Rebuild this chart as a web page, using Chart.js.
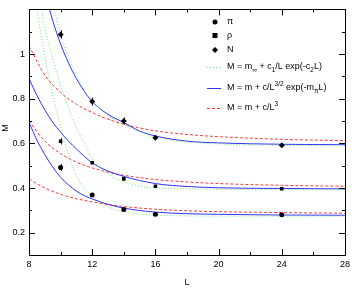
<!DOCTYPE html>
<html>
<head>
<meta charset="utf-8">
<script src="https://cdn.jsdelivr.net/npm/chart.js@4.4.1/dist/chart.umd.min.js"></script>
<style>
  html, body { margin: 0; padding: 0; background: #fff; }
</style>
</head>
<body>
<canvas id="massChart" width="354" height="289"></canvas>

<script>
// lattice data: L and the three masses with error bars
var L_data = [10, 12, 14, 16, 24];
var pi_M   = [0.492, 0.369, 0.304, 0.283, 0.280];
var pi_err = [0.015, 0.004, 0.003, 0.003, 0.003];
var rho_M   = [0.609, 0.513, 0.441, 0.408, 0.397];
var rho_err = [0.014, 0.004, 0.003, 0.003, 0.003];
var N_M   = [1.088, 0.787, 0.700, 0.625, 0.592];
var N_err = [0.018, 0.018, 0.016, 0.004, 0.004];

// fit curves
// green dotted: M = m_inf + c1/L exp(-c2 L)
var gN_L = [9.6, 10, 10.5, 11, 11.5, 12, 13, 14, 15, 16, 18, 20, 24, 28];
var gN_M = [1.2, 1.09, 0.985, 0.905, 0.84, 0.79, 0.725, 0.685, 0.652, 0.625, 0.606, 0.597, 0.591, 0.589];
var gR_L = [8.8, 9, 9.5, 10, 10.5, 11, 11.5, 12, 13, 14, 15, 16, 18, 20, 24, 28];
var gR_M = [1.2, 1.12, 0.98, 0.86, 0.76, 0.67, 0.6, 0.53, 0.463, 0.428, 0.408, 0.4, 0.396, 0.394, 0.393, 0.393];
var gP_L = [8.5, 9, 9.5, 10, 10.5, 11, 11.5, 12, 13, 14, 15, 16, 18, 20, 24, 28];
var gP_M = [1.2, 0.99, 0.82, 0.68, 0.55, 0.455, 0.4, 0.366, 0.315, 0.294, 0.283, 0.278, 0.275, 0.274, 0.274, 0.274];
// blue solid: M = m + c/L^(3/2) exp(-m_pi L)
var bN_L = [9.3, 9.5, 10, 10.5, 11, 11.5, 12, 13, 14, 15, 16, 18, 20, 24, 28];
var bN_M = [1.2, 1.15, 1.045, 0.96, 0.89, 0.833, 0.787, 0.73, 0.693, 0.655, 0.633, 0.61, 0.602, 0.596, 0.594];
var bR_L = [8, 8.5, 9, 9.5, 10, 10.5, 11, 12, 13, 14, 16, 18, 20, 24, 28];
var bR_M = [0.89, 0.815, 0.75, 0.695, 0.65, 0.61, 0.575, 0.513, 0.476, 0.452, 0.42, 0.407, 0.401, 0.398, 0.396];
var bP_L = [8, 8.5, 9, 9.5, 10, 10.5, 11, 11.5, 12, 13, 14, 16, 18, 20, 24, 28];
var bP_M = [0.694, 0.615, 0.55, 0.494, 0.448, 0.414, 0.386, 0.366, 0.351, 0.327, 0.31, 0.292, 0.285, 0.282, 0.279, 0.278];
// red dashed: M = m + c/L^3
var rN_L = [8, 9, 10, 11, 12, 13, 14, 16, 18, 20, 24, 28];
var rN_M = [1.036, 0.906, 0.828, 0.775, 0.738, 0.708, 0.686, 0.656, 0.64, 0.63, 0.618, 0.612];
var rR_L = [8, 9, 10, 11, 12, 13, 14, 16, 18, 20, 24, 28];
var rR_M = [0.70, 0.61, 0.554, 0.516, 0.49, 0.471, 0.457, 0.438, 0.427, 0.42, 0.412, 0.408];
var rP_L = [8, 9, 10, 11, 12, 13, 14, 16, 18, 20, 24, 28];
var rP_M = [0.44, 0.40, 0.372, 0.352, 0.338, 0.326, 0.317, 0.305, 0.298, 0.294, 0.29, 0.287];

var xTicks = [8, 12, 16, 20, 24, 28];
var yTicks = [0.2, 0.4, 0.6, 0.8, 1];

var GREEN = 'rgb(120,225,120)';
var BLUE = 'rgb(50,50,245)';
var RED = 'rgb(245,60,60)';
var FONT = "'Liberation Sans', Arial, sans-serif";

function pts(xs, ys) {
    return xs.map(function (x, i) { return {x: x, y: ys[i]}; });
}

function curve(xs, ys, color, dash) {
    return {
        type: 'line',
        data: pts(xs, ys),
        borderColor: color,
        borderWidth: 1,
        borderDash: dash,
        pointRadius: 0,
        fill: false,
        cubicInterpolationMode: 'monotone'
    };
}

function markers(ys, errs, style, r) {
    return {
        type: 'scatter',
        data: pts(L_data, ys),
        errors: errs,
        pointStyle: style,
        pointRadius: r,
        backgroundColor: '#000',
        borderColor: '#000',
        borderWidth: 0
    };
}

// error bars, inward ticks and the frame
var framePlugin = {
    id: 'frame',
    afterDatasetsDraw: function (chart) {
        var ctx = chart.ctx, xs = chart.scales.x, ys = chart.scales.y;
        ctx.save();
        ctx.strokeStyle = '#000';
        ctx.lineWidth = 1;
        chart.data.datasets.forEach(function (ds) {
            if (!ds.errors) return;
            ds.data.forEach(function (p, i) {
                var px = Math.round(xs.getPixelForValue(p.x)) + 0.5;
                ctx.beginPath();
                ctx.moveTo(px, ys.getPixelForValue(p.y - ds.errors[i]));
                ctx.lineTo(px, ys.getPixelForValue(p.y + ds.errors[i]));
                ctx.stroke();
            });
        });
        ctx.restore();
    },
    afterDraw: function (chart) {
        var ctx = chart.ctx, a = chart.chartArea;
        var xs = chart.scales.x, ys = chart.scales.y;
        ctx.save();
        ctx.strokeStyle = '#000';
        ctx.lineWidth = 1;
        ctx.strokeRect(Math.round(a.left) + 0.5, Math.round(a.top) + 0.5,
                       Math.round(a.right - a.left), Math.round(a.bottom - a.top));
        ctx.beginPath();
        xs.ticks.forEach(function (t) {
            var len = (t.value % 4 === 0) ? 6 : 3;
            var px = Math.round(xs.getPixelForValue(t.value)) + 0.5;
            ctx.moveTo(px, a.bottom); ctx.lineTo(px, a.bottom - len);
            ctx.moveTo(px, a.top); ctx.lineTo(px, a.top + len);
        });
        ys.ticks.forEach(function (t) {
            var k = Math.round(t.value * 10);
            var len = (k % 2 === 0) ? 6 : 3;
            var py = Math.round(ys.getPixelForValue(t.value)) + 0.5;
            ctx.moveTo(a.left, py); ctx.lineTo(a.left + len, py);
            ctx.moveTo(a.right, py); ctx.lineTo(a.right - len, py);
        });
        ctx.stroke();

        // axis titles
        ctx.fillStyle = '#000';
        ctx.font = '9px ' + FONT;
        ctx.textAlign = 'center';
        ctx.textBaseline = 'middle';
        ctx.fillText('L', (a.left + a.right) / 2, 283);
        ctx.save();
        ctx.translate(6, 128);
        ctx.rotate(-Math.PI / 2);
        ctx.fillText('M', 0, 0);
        ctx.restore();
        ctx.restore();
    }
};

// legend with sub- and superscripts
function richText(ctx, x, y, parts) {
    parts.forEach(function (p) {
        var size = p[1] ? 6.5 : 9;
        var dy = p[1] === 'sub' ? 3 : (p[1] === 'sup' ? -4 : 0);
        ctx.font = size + 'px ' + FONT;
        ctx.fillText(p[0], x, y + dy);
        x += ctx.measureText(p[0]).width;
    });
}

var legendPlugin = {
    id: 'customLegend',
    afterDraw: function (chart) {
        var ctx = chart.ctx;
        ctx.save();
        ctx.fillStyle = '#000';
        ctx.textAlign = 'left';
        ctx.textBaseline = 'middle';
        var mx = 215, tx = 227;
        // markers
        ctx.beginPath(); ctx.arc(mx, 22, 2.5, 0, 2 * Math.PI); ctx.fill();
        ctx.fillRect(mx - 2.5, 33, 5, 5);
        ctx.beginPath();
        ctx.moveTo(mx, 47); ctx.lineTo(mx + 3, 50); ctx.lineTo(mx, 53); ctx.lineTo(mx - 3, 50);
        ctx.closePath(); ctx.fill();
        richText(ctx, tx, 22, [['\u03C0']]);
        richText(ctx, tx, 36, [['\u03C1']]);
        richText(ctx, tx, 50, [['N']]);
        // lines
        var rows = [[67, GREEN, [1, 2]], [88, BLUE, []], [108, RED, [3, 2]]];
        rows.forEach(function (r) {
            ctx.strokeStyle = r[1];
            ctx.lineWidth = 1;
            ctx.setLineDash(r[2]);
            ctx.beginPath();
            ctx.moveTo(207, r[0] + 0.5); ctx.lineTo(221, r[0] + 0.5);
            ctx.stroke();
        });
        ctx.setLineDash([]);
        richText(ctx, tx, 67, [['M = m'], ['\u221E', 'sub'], [' + c'], ['1', 'sub'], ['/L exp(-c'], ['2', 'sub'], ['L)']]);
        richText(ctx, tx, 88, [['M = m + c/L'], ['3/2', 'sup'], [' exp(-m'], ['\u03C0', 'sub'], ['L)']]);
        richText(ctx, tx, 108, [['M = m + c/L'], ['3', 'sup']]);
        ctx.restore();
    }
};

var ctx = document.getElementById('massChart').getContext('2d');
var chart = new Chart(ctx, {
    data: {
        datasets: [
            markers(pi_M, pi_err, 'circle', 2.5),
            markers(rho_M, rho_err, 'rect', 2.5),
            markers(N_M, N_err, 'rectRot', 3),
            curve(gN_L, gN_M, GREEN, [1, 2]),
            curve(gR_L, gR_M, GREEN, [1, 2]),
            curve(gP_L, gP_M, GREEN, [1, 2]),
            curve(bN_L, bN_M, BLUE, []),
            curve(bR_L, bR_M, BLUE, []),
            curve(bP_L, bP_M, BLUE, []),
            curve(rN_L, rN_M, RED, [3, 2]),
            curve(rR_L, rR_M, RED, [3, 2]),
            curve(rP_L, rP_M, RED, [3, 2])
        ]
    },
    options: {
        responsive: false,
        animation: false,
        events: [],
        layout: { padding: { top: 2, right: 1, left: 0, bottom: 0 } },
        plugins: { legend: { display: false }, tooltip: { enabled: false } },
        scales: {
            x: {
                type: 'linear',
                min: 8, max: 28,
                afterFit: function (s) { s.height = 34; },
                grid: { display: false, drawTicks: false },
                border: { display: false },
                ticks: {
                    stepSize: 2,
                    autoSkip: false,
                    maxRotation: 0,
                    padding: 4,
                    color: '#000',
                    font: { family: FONT, size: 9 },
                    callback: function (v) { return xTicks.indexOf(v) >= 0 ? String(v) : ''; }
                }
            },
            y: {
                type: 'linear',
                min: 0.1, max: 1.2,
                afterFit: function (s) { s.width = 29; },
                grid: { display: false, drawTicks: false },
                border: { display: false },
                ticks: {
                    stepSize: 0.1,
                    autoSkip: false,
                    padding: 4,
                    color: '#000',
                    font: { family: FONT, size: 9 },
                    callback: function (v) {
                        var k = Math.round(v * 10) / 10;
                        return yTicks.indexOf(k) >= 0 ? String(k) : '';
                    }
                }
            }
        }
    },
    plugins: [framePlugin, legendPlugin]
});
</script>
</body>
</html>
